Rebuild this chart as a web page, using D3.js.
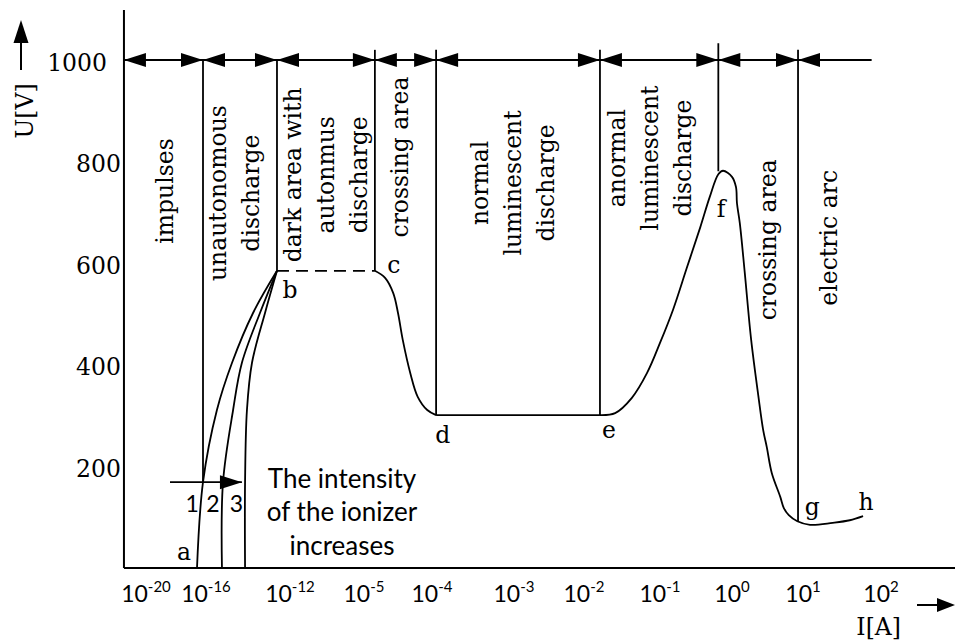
<!DOCTYPE html>
<html>
<head>
<meta charset="utf-8">
<script src="https://cdn.jsdelivr.net/npm/d3@7.9.0/dist/d3.min.js"></script>
<style>
  body { margin: 0; background: #fff; }
  svg { display: block; }
  .serif { font-family: "DejaVu Serif", serif; font-size: 23.5px; fill: #000; }
  .sans { font-family: Lato, sans-serif; fill: #000; }
</style>
</head>
<body>
<svg width="955" height="642"></svg>
<script>
// x axis is schematic: log10(I) exponents, not evenly spaced
const tickExps = [-20, -16, -12, -5, -4, -3, -2, -1, 0, 1, 2];
const voltTicks = [200, 400, 600, 800, 1000];
const xMin = -21.47;

// region boundaries along the 1000 V arrow row
const regionEdges = [-21.47, -16.2, -12.62, -4.84, -3.95, -1.79, -0.19, 0.93, 1.88];

// vertical dividers: exponent, top volts, bottom volts
const dividers = [
  { x: -16.2, top: 1000, bottom: 169 },
  { x: -12.62, top: 1000, bottom: 585 },
  { x: -4.84, top: 1020, bottom: 585 },
  { x: -3.95, top: 1020, bottom: 301 },
  { x: -1.79, top: 1020, bottom: 301 },
  { x: -0.19, top: 1033, bottom: 781 },
  { x: 0.93, top: 1020, bottom: 92 }
];

// [exponent, volts]
const curve1 = [[-16.6, 0], [-16.2, 169], [-15.48, 311], [-14.76, 404], [-13.76, 502], [-12.62, 585]];
const curve2 = [[-15.24, 0], [-15.19, 169], [-14.71, 311], [-14.29, 404], [-13.43, 502], [-12.62, 585]];
const curve3 = [[-14.14, 0], [-14.14, 169], [-14.05, 311], [-13.81, 404], [-13.19, 502], [-12.62, 585]];
const darkPlateau = [[-12.62, 585], [-4.84, 585]];
const curveCD = [[-4.84, 585], [-4.69, 571], [-4.57, 541], [-4.5, 502], [-4.43, 449], [-4.32, 384],
  [-4.21, 337], [-4.07, 311], [-3.95, 301]];
const normalPlateau = [[-3.95, 301], [-1.79, 301]];
const curveEH = [[-1.79, 301], [-1.59, 305], [-1.37, 335], [-1.17, 384], [-1.0, 443], [-0.82, 508],
  [-0.625, 592], [-0.44, 671], [-0.31, 730], [-0.19, 775], [-0.125, 782], [0.0, 770], [0.056, 750],
  [0.07, 718], [0.11, 679], [0.18, 581], [0.27, 449], [0.37, 340], [0.44, 271], [0.49, 238],
  [0.56, 187], [0.68, 140], [0.73, 118], [0.8, 104], [0.92, 92], [1.09, 85], [1.38, 89],
  [1.6, 94], [1.77, 102]];

const ionizerArrow = [[-18.4, 169], [-14.29, 169]];

const regionLabels = [
  { lines: ["impulses"], x: -18.6, v: 742 },
  { lines: ["unautonomous", "discharge"], x: -14.55, v: 738 },
  { lines: ["dark area with", "autonmus", "discharge"], x: -8.4, v: 774 },
  { lines: ["crossing area"], x: -4.44, v: 809 },
  { lines: ["normal", "luminescent", "discharge"], x: -2.99, v: 758 },
  { lines: ["anormal", "luminescent", "discharge"], x: -1.11, v: 807 },
  { lines: ["crossing area"], x: 0.535, v: 646 },
  { lines: ["electric arc"], x: 1.35, v: 650 }
];

const pointLabels = [
  { t: "a", x: -17.47, v: 16 },
  { t: "b", x: -12.0, v: 531 },
  { t: "c", x: -4.56, v: 581 },
  { t: "d", x: -3.87, v: 246 },
  { t: "e", x: -1.67, v: 256 },
  { t: "f", x: -0.15, v: 691 },
  { t: "g", x: 1.12, v: 104 },
  { t: "h", x: 1.81, v: 114 }
];

const curveNumbers = [{ t: "1", x: -16.93 }, { t: "2", x: -15.67 }, { t: "3", x: -14.55 }];
const ionizerText = ["The intensity", "of the ionizer", "increases"];

const svg = d3.select("svg");

const x = d3.scaleLinear()
  .domain(tickExps)
  .range([146, 206, 290, 364, 432, 514, 584, 660, 732, 803, 881]);
const y = d3.scaleLinear().domain([0, 1000]).range([568, 60]);

const x0 = x(xMin);
const lineGen = d3.line().x(d => x(d[0])).y(d => y(d[1]));
const smooth = d3.line().x(d => x(d[0])).y(d => y(d[1])).curve(d3.curveCatmullRom.alpha(0.5));

function arrowHead(tipX, tipY, dir, len = 22, half = 7) {
  return `M${tipX},${tipY}L${tipX - dir * len},${tipY - half}L${tipX - dir * len},${tipY + half}Z`;
}

// axes
svg.append("line").attr("x1", x0).attr("x2", x0).attr("y1", 10).attr("y2", y(0))
  .attr("stroke", "#000").attr("stroke-width", 2);
svg.append("line").attr("x1", x0).attr("x2", 955).attr("y1", y(0)).attr("y2", y(0))
  .attr("stroke", "#000").attr("stroke-width", 2);

// y tick labels
svg.selectAll(".ytick").data(voltTicks).enter().append("text")
  .attr("class", "serif")
  .attr("x", d => x0 - 3 - (d === 1000 ? 14 : 0))
  .attr("y", d => y(d) + 4)
  .attr("text-anchor", "end")
  .attr("dominant-baseline", "middle")
  .text(d => d);

// x tick labels, 10 with superscript
const xt = svg.selectAll(".xtick").data(tickExps).enter().append("text")
  .attr("class", "sans")
  .attr("x", d => x(d))
  .attr("y", y(0) + 34)
  .attr("text-anchor", "middle")
  .style("font-size", "23px");
xt.append("tspan").text("10");
xt.append("tspan").attr("dy", -10).style("font-size", "15px").text(d => d);

// axis titles and arrows
svg.append("text").attr("class", "serif")
  .attr("transform", "translate(33,111) rotate(-90)")
  .attr("text-anchor", "middle").text("U[V]");
svg.append("line").attr("x1", 21).attr("x2", 21).attr("y1", 70).attr("y2", 40)
  .attr("stroke", "#000").attr("stroke-width", 2);
svg.append("path").attr("d", `M21,20L13.5,43L28.5,43Z`).attr("fill", "#000");

svg.append("text").attr("class", "serif")
  .attr("x", x(1.97)).attr("y", 635).attr("text-anchor", "middle").text("I[A]");
svg.append("line").attr("x1", 917).attr("x2", 940).attr("y1", 605).attr("y2", 605)
  .attr("stroke", "#000").attr("stroke-width", 2);
svg.append("path").attr("d", arrowHead(955, 605, 1, 18, 7)).attr("fill", "#000");

// 1000 V arrow row
svg.append("line")
  .attr("x1", x(regionEdges[0])).attr("x2", x(regionEdges[regionEdges.length - 1]))
  .attr("y1", y(1000)).attr("y2", y(1000))
  .attr("stroke", "#000").attr("stroke-width", 2);
const heads = [];
regionEdges.slice(0, -1).forEach((e, i) => {
  heads.push({ x: e, dir: -1 });
  if (i < regionEdges.length - 2) heads.push({ x: regionEdges[i + 1], dir: 1 });
});
svg.selectAll(".head").data(heads).enter().append("path")
  .attr("d", d => arrowHead(x(d.x), y(1000), d.dir))
  .attr("fill", "#000");

// dividers
svg.selectAll(".divider").data(dividers).enter().append("line")
  .attr("x1", d => x(d.x)).attr("x2", d => x(d.x))
  .attr("y1", d => y(d.top)).attr("y2", d => y(d.bottom))
  .attr("stroke", "#000").attr("stroke-width", 1.8);

// characteristic
const curveStyle = sel => sel.attr("fill", "none").attr("stroke", "#000").attr("stroke-width", 1.8);
[curve1, curve2, curve3, curveCD, curveEH].forEach(c => svg.append("path").attr("d", smooth(c)).call(curveStyle));
svg.append("path").attr("d", lineGen(normalPlateau)).call(curveStyle);
svg.append("path").attr("d", lineGen(darkPlateau)).call(curveStyle).attr("stroke-dasharray", "12 7");

// ionizer arrow
svg.append("path").attr("d", lineGen(ionizerArrow)).call(curveStyle);
svg.append("path").attr("d", arrowHead(x(ionizerArrow[1][0]), y(ionizerArrow[1][1]), 1)).attr("fill", "#000");

// region labels, rotated
regionLabels.forEach(r => {
  const cx = x(r.x), n = r.lines.length;
  r.lines.forEach((t, i) => {
    const lx = cx + (i - (n - 1) / 2) * 33 + 6.3;
    svg.append("text").attr("class", "serif")
      .attr("transform", `translate(${lx},${y(r.v)}) rotate(-90)`)
      .attr("text-anchor", "middle").text(t);
  });
});

// point letters
svg.selectAll(".pt").data(pointLabels).enter().append("text")
  .attr("class", "serif")
  .attr("x", d => x(d.x)).attr("y", d => y(d.v))
  .attr("text-anchor", "middle").text(d => d.t);

svg.selectAll(".num").data(curveNumbers).enter().append("text")
  .attr("class", "sans").style("font-size", "23px")
  .attr("x", d => x(d.x)).attr("y", y(110))
  .attr("text-anchor", "middle").text(d => d.t);

svg.selectAll(".ion").data(ionizerText).enter().append("text")
  .attr("class", "sans").style("font-size", "26px")
  .attr("x", x(-7.08)).attr("y", (d, i) => y(157.5) + i * 33.5)
  .attr("text-anchor", "middle").text(d => d);
</script>
</body>
</html>
